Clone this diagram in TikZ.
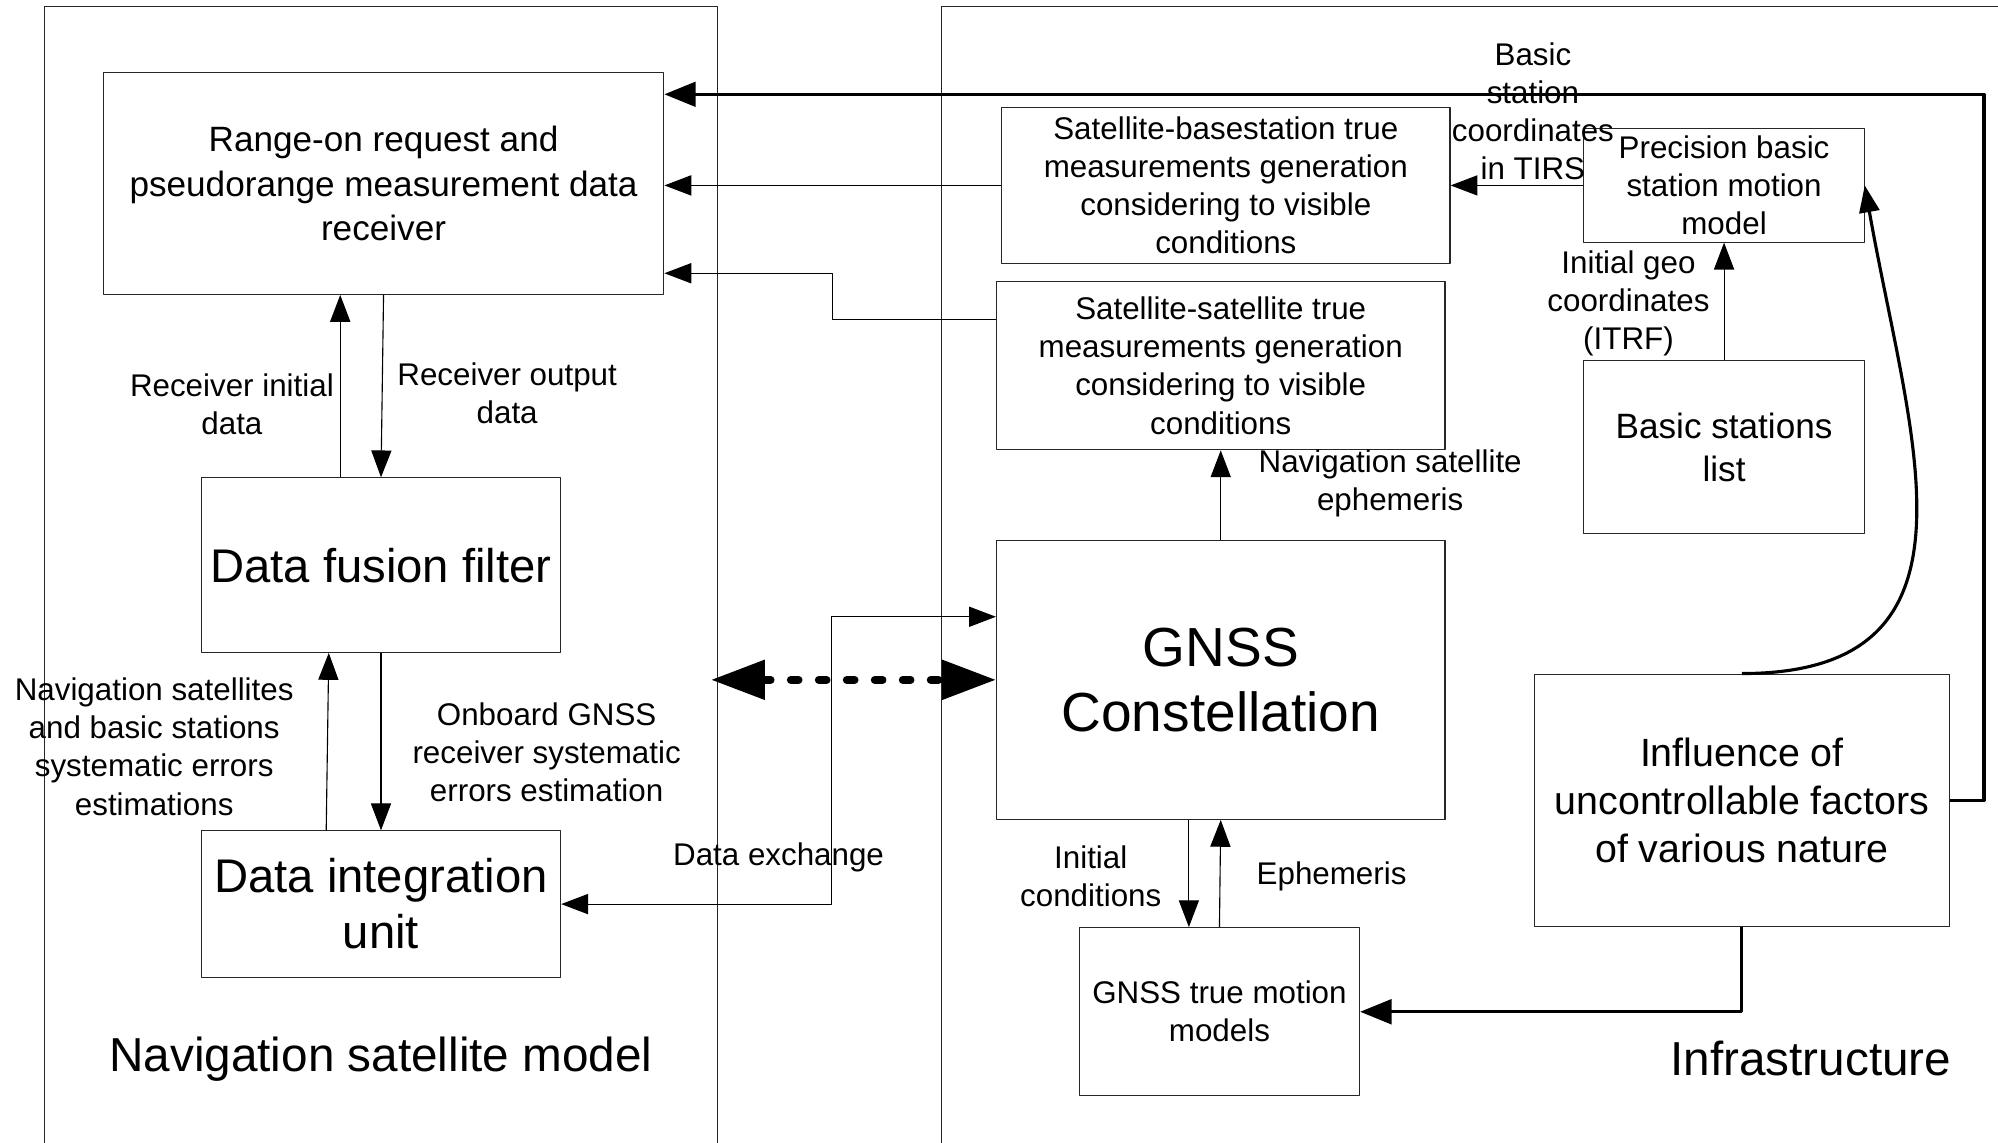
\documentclass[tikz,border=0pt]{standalone}
\usepackage{fontspec}
\setmainfont{Liberation Sans}
\usetikzlibrary{arrows.meta}
\begin{document}
\begin{tikzpicture}[x=0.02cm, y=-0.02cm, line join=round, >={Triangle[length=12pt,width=9pt]},
  box/.style={draw=black!85, line width=0.5pt, inner sep=0pt, align=center, font=\fontsize{14}{17}\selectfont},
  lbl/.style={inner sep=0pt, align=center, font=\fontsize{14}{17}\selectfont},
  ln/.style={draw=black, line width=0.5pt},
  heavy/.style={line width=1.4pt, -{Triangle[length=14pt,width=11pt]}},
  dx/.style={line width=3.5pt, dash pattern=on 3.5pt off 9pt, line cap=round, {Triangle[length=24pt,width=17pt]}-{Triangle[length=24pt,width=17pt]}}]
\useasboundingbox (0,0) rectangle (1568,897);
% Hai khung
\draw[box] (35,897) |- (563,5) -- (563,897);
\draw[box] (739,897) |- (1568,5);
% Khung trai
\node[box, minimum width=8.8cm, minimum height=3.48cm, font=\fontsize{15.7}{20}\selectfont] (range) at (301,144) {Range-on request and\\pseudorange measurement data\\receiver};
\node[box, minimum width=5.64cm, minimum height=2.74cm, font=\fontsize{21.1}{25}\selectfont] (fusion) at (299,443.5) {Data fusion filter};
\node[box, minimum width=5.64cm, minimum height=2.3cm, font=\fontsize{21.1}{25}\selectfont] (integ) at (299,709.5) {Data integration\\unit};
% Khung phai
\node[box, minimum width=7.04cm, minimum height=2.46cm] (satbase) at (962,145.5) {Satellite-basestation true\\measurements generation\\considering to visible\\conditions};
\node[box, minimum width=7.04cm, minimum height=2.64cm] (satsat) at (958,287) {Satellite-satellite true\\measurements generation\\considering to visible\\conditions};
\node[box, minimum width=4.4cm, minimum height=1.78cm] (prec) at (1353,145.5) {Precision basic\\station motion\\model};
\node[box, minimum width=4.4cm, minimum height=2.72cm, font=\fontsize{15.7}{19}\selectfont] (bslist) at (1353,351) {Basic stations\\list};
\node[box, minimum width=7.04cm, minimum height=4.38cm, font=\fontsize{24.6}{29}\selectfont] (gnss) at (958,533.5) {GNSS\\Constellation};
\node[box, minimum width=4.4cm, minimum height=2.64cm] (motion) at (957,794) {GNSS true motion\\models};
\node[box, minimum width=6.52cm, minimum height=3.96cm, font=\fontsize{17.6}{21.3}\selectfont] (infl) at (1367,628) {Influence of\\uncontrollable factors\\of various nature};
% Cac mui ten mong
\draw[ln, ->] (satbase.west) -- (satbase.west -| range.east);
\draw[ln, ->] ([yshift=-0.6cm]satsat.north west) -- ++(-128,0) |- ([yshift=0.34cm]range.south east);
\draw[ln, ->] ([xshift=-0.64cm]fusion.north) -- ([xshift=-0.64cm]fusion.north |- range.south);
\draw[ln, ->] (range.south) -- (fusion.north);
\draw[ln, ->] ([xshift=-0.86cm]integ.north) -- ([xshift=-0.82cm]fusion.south);
\draw[ln, ->] (fusion.south) -- (integ.north);
\draw[ln, <->] (integ.east) -- ++(212,0) |- ([yshift=0.99cm]gnss.west);
\draw[ln, ->] (gnss.north) -- (satsat.south);
\draw[ln, ->] (prec.west) -- (satbase.east);
\draw[ln, ->] (bslist.north) -- (prec.south);
\draw[ln, ->] ([xshift=-0.5cm]gnss.south) -- ([xshift=-0.5cm]gnss.south |- motion.north);
\draw[ln, ->] (motion.north) -- (gnss.south);
% Trao doi du lieu
\coordinate (cL) at (558,533.5);
\draw[dx] (cL) -- (gnss.west);
% Cac mui ten dam
\coordinate (cTR) at (1557,74);
\draw[heavy] (infl.east) -| (cTR) -- (range.east |- cTR);
\draw[heavy] (infl.south) |- (motion.east);
\draw[line width=1.4pt, ->] (infl.north) to[out=0, in=-80, looseness=1.3] (prec.east);
% Nhan
\node[lbl] (lRecIn) at (182,317) {Receiver initial\\data};
\node[lbl] (lRecOut) at (398,308.5) {Receiver output\\data};
\node[lbl] (lNavErr) at (121,586) {Navigation satellites\\and basic stations\\systematic errors\\estimations};
\node[lbl] (lOnb) at (429,590.5) {Onboard GNSS\\receiver systematic\\errors estimation};
\node[lbl] (lDx) at (611,673) {Data exchange};
\node[lbl] (lTirs) at (1203,87.5) {Basic\\station\\coordinates\\in TIRS};
\node[lbl] (lItrf) at (1278,238) {Initial geo\\coordinates\\(ITRF)};
\node[lbl] (lEph) at (1091,379) {Navigation satellite\\ephemeris};
\node[lbl] (lInit) at (856,688) {Initial\\conditions};
\node[lbl] (lEph2) at (1045,688) {Ephemeris};
\node[lbl, font=\fontsize{21.3}{25}\selectfont] (tNav) at (299,831) {Navigation satellite model};
\node[lbl, font=\fontsize{21.3}{25}\selectfont] (tInf) at (1421,831) {Infrastructure};
\end{tikzpicture}
\end{document}
